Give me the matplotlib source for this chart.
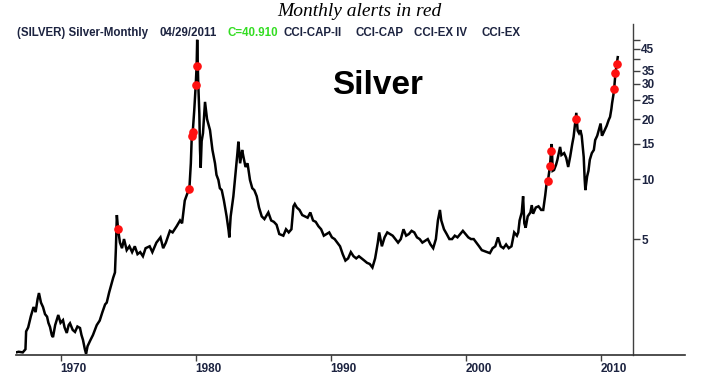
import matplotlib
matplotlib.use("Agg")
import matplotlib.pyplot as plt
from matplotlib.lines import Line2D
from matplotlib.ticker import FixedLocator, FixedFormatter, NullLocator

# ---- data (decimal year, price) ----
years = [
    1966.7, 1966.9, 1967.2, 1967.4, 1967.45, 1967.6, 1967.8, 1968.0, 1968.15, 1968.3,
    1968.4, 1968.55, 1968.7, 1968.85, 1969.0, 1969.1, 1969.22, 1969.35, 1969.44, 1969.6,
    1969.83, 1970.0, 1970.18, 1970.3, 1970.46, 1970.6, 1970.7, 1970.9, 1971.07, 1971.25,
    1971.44, 1971.55, 1971.66, 1971.8, 1971.89, 1972.0, 1972.2, 1972.4, 1972.68, 1972.9,
    1973.1, 1973.3, 1973.42, 1973.6, 1973.79, 1973.9, 1974.03, 1974.1, 1974.17, 1974.26,
    1974.4, 1974.55, 1974.7, 1974.9, 1975.1, 1975.3, 1975.5, 1975.7, 1975.9, 1976.1,
    1976.3, 1976.6, 1976.8, 1977.1, 1977.4, 1977.6, 1977.8, 1978.1, 1978.3, 1978.6,
    1978.85, 1979.0, 1979.2, 1979.4, 1979.54, 1979.65, 1979.72, 1979.79, 1979.9, 1980.01,
    1980.08, 1980.12, 1980.2, 1980.28, 1980.33, 1980.38, 1980.45, 1980.55, 1980.7, 1980.85,
    1981.07, 1981.25, 1981.44, 1981.55, 1981.69, 1981.8, 1981.94, 1982.1, 1982.3, 1982.45,
    1982.5, 1982.6, 1982.8, 1982.95, 1983.1, 1983.17, 1983.3, 1983.45, 1983.54, 1983.7,
    1983.85, 1984.03, 1984.2, 1984.35, 1984.53, 1984.7, 1984.9, 1985.1, 1985.39, 1985.6,
    1985.8, 1986.0, 1986.2, 1986.5, 1986.7, 1986.9, 1987.1, 1987.25, 1987.35, 1987.5,
    1987.7, 1987.9, 1988.1, 1988.3, 1988.5, 1988.7, 1988.9, 1989.1, 1989.3, 1989.5,
    1989.7, 1989.9, 1990.1, 1990.3, 1990.5, 1990.7, 1990.9, 1991.1, 1991.3, 1991.5,
    1991.7, 1991.9, 1992.1, 1992.3, 1992.5, 1992.7, 1992.9, 1993.1, 1993.3, 1993.5,
    1993.6, 1993.8, 1994.0, 1994.2, 1994.4, 1994.6, 1994.8, 1995.0, 1995.2, 1995.4,
    1995.6, 1995.8, 1996.0, 1996.2, 1996.4, 1996.6, 1996.8, 1997.0, 1997.2, 1997.4,
    1997.6, 1997.8, 1997.95, 1998.1, 1998.2, 1998.4, 1998.6, 1998.8, 1999.0, 1999.2,
    1999.4, 1999.6, 1999.8, 2000.0, 2000.2, 2000.4, 2000.6, 2000.8, 2001.0, 2001.2,
    2001.4, 2001.6, 2001.8, 2002.0, 2002.2, 2002.4, 2002.6, 2002.8, 2003.0, 2003.2,
    2003.4, 2003.6, 2003.8, 2003.9, 2004.0, 2004.16, 2004.26, 2004.35, 2004.45, 2004.6,
    2004.8, 2004.9, 2005.0, 2005.2, 2005.4, 2005.6, 2005.75, 2005.9, 2006.0, 2006.1,
    2006.25, 2006.33, 2006.38, 2006.45, 2006.55, 2006.7, 2006.8, 2007.0, 2007.1, 2007.3,
    2007.45, 2007.6, 2007.75, 2007.9, 2008.0, 2008.15, 2008.2, 2008.3, 2008.4, 2008.5,
    2008.6, 2008.75, 2008.82, 2008.87, 2009.0, 2009.1, 2009.2, 2009.35, 2009.5, 2009.6,
    2009.75, 2009.9, 2010.0, 2010.1, 2010.2, 2010.3, 2010.45, 2010.6, 2010.7, 2010.8,
    2010.85, 2010.95, 2011.0, 2011.1, 2011.2, 2011.27,
]
prices = [
    1.35, 1.36, 1.35, 1.40, 1.72, 1.80, 2.05, 2.28, 2.15, 2.50,
    2.68, 2.40, 2.28, 2.10, 2.04, 1.90, 1.81, 1.65, 1.61, 1.85,
    2.08, 1.90, 1.96, 1.80, 1.69, 1.85, 1.89, 1.75, 1.71, 1.82,
    1.79, 1.65, 1.56, 1.40, 1.33, 1.45, 1.55, 1.65, 1.85, 1.95,
    2.15, 2.35, 2.40, 2.70, 3.00, 3.20, 3.40, 4.50, 6.60, 5.60,
    4.80, 4.50, 5.00, 4.40, 4.60, 4.30, 4.60, 4.20, 4.30, 4.10,
    4.50, 4.60, 4.30, 4.80, 5.10, 4.50, 4.80, 5.50, 5.40, 5.80,
    6.20, 6.00, 7.80, 8.50, 8.90, 12.0, 16.5, 17.2, 22.0, 29.5,
    37.1, 50.0, 30.0, 21.3, 14.0, 11.4, 15.5, 17.0, 24.4, 20.0,
    17.6, 14.0, 12.0, 10.5, 9.9, 9.0, 8.8, 7.8, 6.5, 5.5,
    5.1, 6.5, 8.2, 10.5, 13.5, 15.4, 12.0, 14.0, 13.0, 11.5,
    12.0, 9.9, 9.0, 8.8, 8.2, 7.2, 6.5, 6.3, 6.8, 6.2,
    6.1, 5.9, 5.3, 5.2, 5.6, 5.4, 5.6, 7.3, 7.5, 7.2,
    7.0, 6.6, 6.5, 6.4, 6.8, 6.2, 6.1, 5.8, 5.6, 5.2,
    5.3, 5.4, 5.1, 5.0, 4.8, 4.6, 4.2, 3.9, 4.0, 4.3,
    4.1, 4.0, 4.1, 4.0, 3.9, 3.8, 3.75, 3.6, 4.0, 4.8,
    5.4, 4.6, 5.1, 5.4, 5.3, 5.2, 5.0, 4.8, 5.0, 5.6,
    5.2, 5.3, 5.5, 5.4, 5.1, 5.0, 4.8, 4.9, 5.0, 4.7,
    4.5, 5.0, 6.2, 7.0, 6.2, 5.6, 5.3, 5.0, 5.0, 5.2,
    5.1, 5.3, 5.5, 5.3, 5.1, 5.0, 5.0, 4.8, 4.6, 4.4,
    4.35, 4.3, 4.25, 4.5, 4.6, 5.1, 4.6, 4.5, 4.7, 4.5,
    4.6, 5.4, 5.2, 5.4, 6.2, 6.8, 8.2, 6.0, 5.7, 6.5,
    6.8, 7.4, 6.7, 7.2, 7.3, 7.0, 7.0, 8.3, 9.5, 9.8,
    11.6, 13.8, 15.0, 11.0, 11.1, 11.8, 12.5, 14.5, 13.2, 13.5,
    12.8, 11.5, 13.0, 15.0, 16.3, 20.0, 21.5, 17.5, 17.0, 17.6,
    16.5, 12.9, 10.0, 8.8, 10.3, 11.0, 12.5, 13.5, 14.0, 15.7,
    16.5, 18.0, 19.0, 16.5, 17.0, 17.6, 18.5, 19.8, 20.5, 22.5,
    24.0, 26.5, 28.2, 34.0, 37.9, 40.9,
]

# monthly alerts (red dots)
alert_years = [1974.26, 1979.54, 1979.72, 1979.79, 1980.01, 1980.08,
               2006.1, 2006.25, 2006.33, 2008.15, 2011.0, 2011.1, 2011.2]
alert_prices = [5.6, 8.9, 16.5, 17.2, 29.5, 37.1,
                9.8, 11.6, 13.8, 20.0, 28.2, 34.0, 37.9]

x_ticks = [1970, 1980, 1990, 2000, 2010]
x_tick_labels = ["1970", "1980", "1990", "2000", "2010"]
y_ticks = [5, 10, 15, 20, 25, 30, 35, 40, 45, 50]
y_tick_labels = ["5", "10", "15", "20", "25", "30", "35", "", "45", ""]

header_parts = [
    ("(SILVER) Silver-Monthly", "#1c2340"),
    ("04/29/2011", "#1c2340"),
    ("C=40.910", "#33dd22"),
    ("CCI-CAP-II", "#1c2340"),
    ("CCI-CAP", "#1c2340"),
    ("CCI-EX IV", "#1c2340"),
    ("CCI-EX", "#1c2340"),
]
header_x = [17, 159, 228, 283, 355, 414, 481]

W, H = 701, 381
fig = plt.figure(figsize=(W / 100, H / 100), dpi=100)
fig.patch.set_facecolor("white")
L, R, T, B = 16, 633, 24, 355
ax = fig.add_axes([L / W, 1 - B / H, (R - L) / W, (B - T) / H])

ax.plot(years, prices, color="black", lw=1.8, solid_joinstyle="miter")
ax.plot(alert_years, alert_prices, "o", color="#ff1010", ms=5.2, mec="#ff1010",
        zorder=5)

ax.set_yscale("log")
ax.set_xlim(1966.7, 2012.4)
ax.set_ylim(1.31, 60)

for s in ["left", "top", "bottom"]:
    ax.spines[s].set_visible(False)
ax.spines["right"].set_color("#404040")
ax.spines["right"].set_linewidth(1.0)

ax.yaxis.tick_right()
ax.yaxis.set_major_locator(FixedLocator(y_ticks))
ax.yaxis.set_major_formatter(FixedFormatter(y_tick_labels))
ax.yaxis.set_minor_locator(NullLocator())
ax.tick_params(axis="y", which="major", direction="out", length=5, width=1,
               color="#404040", pad=1, labelsize=8.5, labelcolor="#1c2340")
for lbl in ax.get_yticklabels():
    lbl.set_fontweight("bold")
    lbl.set_family("Liberation Sans")

ax.set_xticks(x_ticks)
ax.set_xticklabels(x_tick_labels)
ax.tick_params(axis="x", direction="out", length=4, width=1, color="#404040",
               pad=2, labelsize=8.5, labelcolor="#1c2340")
for lbl in ax.get_xticklabels():
    lbl.set_fontweight("bold")
    lbl.set_family("Liberation Sans")
    lbl.set_ha("left")

# bottom axis line extends past the price axis
fig.add_artist(Line2D([L / W, 685 / W], [1 - B / H, 1 - B / H],
                      color="#303030", lw=1.2))

# title and header
fig.text(359 / W, 1 - 12 / H, "Monthly alerts in red", ha="center", va="center",
         family="Liberation Serif", style="italic", fontsize=14, color="black")
for (txt, col), xp in zip(header_parts, header_x):
    fig.text(xp / W, 1 - 33 / H, txt, ha="left", va="center",
             family="Liberation Sans", fontweight="bold", fontsize=8.3, color=col)

fig.text(378 / W, 1 - 86 / H, "Silver", ha="center", va="center",
         family="Liberation Sans", fontweight="bold", fontsize=24, color="black")

fig.savefig("out.png", dpi=100, facecolor="white")
